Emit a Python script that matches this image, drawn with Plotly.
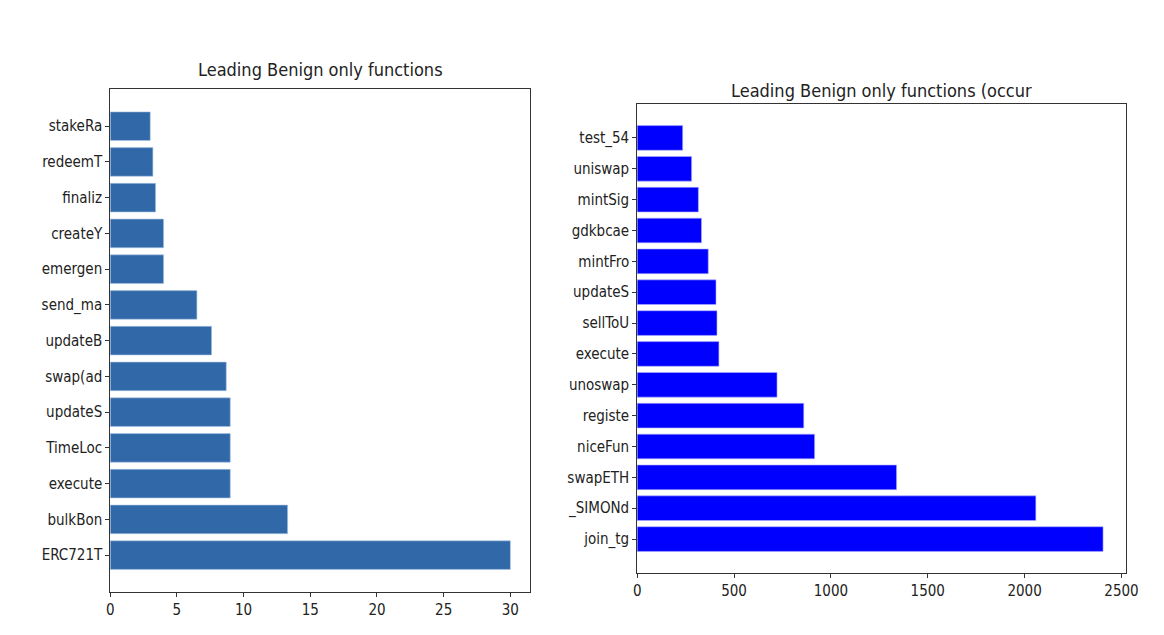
import plotly.graph_objects as go

# Left chart data (bottom to top)
left_labels = ["ERC721T", "bulkBon", "execute", "TimeLoc", "updateS", "swap(ad",
               "updateB", "send_ma", "emergen", "createY", "finaliz", "redeemT", "stakeRa"]
left_values = [30, 13.3, 9.0, 9.0, 9.0, 8.7, 7.6, 6.5, 4.0, 4.0, 3.4, 3.2, 3.0]

# Right chart data (bottom to top)
right_labels = ["join_tg", "_SIMONd", "swapETH", "niceFun", "registe", "unoswap",
                "execute", "sellToU", "updateS", "mintFro", "gdkbcae", "mintSig",
                "uniswap", "test_54"]
right_values = [2405, 2058, 1339, 916, 860, 722, 422, 412, 407, 367, 332, 316, 281, 235]

left_ticks = [0, 5, 10, 15, 20, 25, 30]
right_ticks = [0, 500, 1000, 1500, 2000, 2500]

left_title = "Leading Benign only functions"
right_title = "Leading Benign only functions (occur"

W, H = 1164, 635
FONT = "DejaVu Sans Condensed, DejaVu Sans, sans-serif"
AX = "#333333"

fig = go.Figure()
fig.add_trace(go.Bar(
    x=left_values, y=left_labels, orientation="h", width=0.8,
    marker=dict(color="#3068a8", line=dict(color="#aac4e4", width=0.6)),
    xaxis="x", yaxis="y", showlegend=False))
fig.add_trace(go.Bar(
    x=right_values, y=right_labels, orientation="h", width=0.8,
    marker=dict(color="#0000ff", line=dict(color="#b0b0ff", width=0.6)),
    xaxis="x2", yaxis="y2", showlegend=False))

def px_x(a, b):
    return [a / W, b / W]

def px_y(top, bottom):
    return [(H - bottom) / H, (H - top) / H]

axis_common = dict(showline=True, linecolor=AX, linewidth=1, mirror=True,
                   ticks="outside", ticklen=4, tickcolor=AX, tickwidth=1,
                   showgrid=False, zeroline=False,
                   tickfont=dict(family=FONT, size=15, color="#222222"))

n_l = len(left_labels)
n_r = len(right_labels)
fig.update_layout(
    width=W, height=H,
    margin=dict(l=0, r=0, t=0, b=0),
    paper_bgcolor="white", plot_bgcolor="white",
    bargap=0.2,
    xaxis=dict(domain=px_x(107.7, 533.7), anchor="y", range=[0, 31.5],
               tickvals=left_ticks, **axis_common),
    yaxis=dict(domain=px_y(89, 592.3), anchor="x", type="category",
               categoryorder="array", categoryarray=left_labels,
               range=[-0.4 - 0.05 * (n_l - 1 + 0.8), n_l - 1 + 0.4 + 0.05 * (n_l - 1 + 0.8)],
               **axis_common),
    xaxis2=dict(domain=px_x(642, 1138), anchor="y2",
                range=[0, max(right_values) * 1.05],
                tickvals=right_ticks, **axis_common),
    yaxis2=dict(domain=px_y(104.3, 572.7), anchor="x2", type="category",
                categoryorder="array", categoryarray=right_labels,
                range=[-0.4 - 0.05 * (n_r - 1 + 0.8), n_r - 1 + 0.4 + 0.05 * (n_r - 1 + 0.8)],
                **axis_common),
    annotations=[
        dict(text=left_title, x=320.7 / W, y=(H - 69.7) / H, xref="paper", yref="paper",
             showarrow=False, xanchor="center", yanchor="middle",
             font=dict(family=FONT, size=18, color="#222222")),
        dict(text=right_title, x=890 / W, y=(H - 90.2) / H, xref="paper", yref="paper",
             showarrow=False, xanchor="center", yanchor="middle",
             font=dict(family=FONT, size=18, color="#222222")),
    ],
)

post = (
    "document.documentElement.style.margin='0';"
    "document.body.style.margin='0';"
    "document.body.style.overflow='hidden';"
    "document.documentElement.style.overflow='hidden';"
    "var gd=document.getElementById('{plot_id}');"
    "Plotly.relayout(gd,{width:document.documentElement.clientWidth,"
    "height:document.documentElement.clientHeight||window.innerHeight});"
)

fig.write_html("out.html", config={"displayModeBar": False}, post_script=post)
